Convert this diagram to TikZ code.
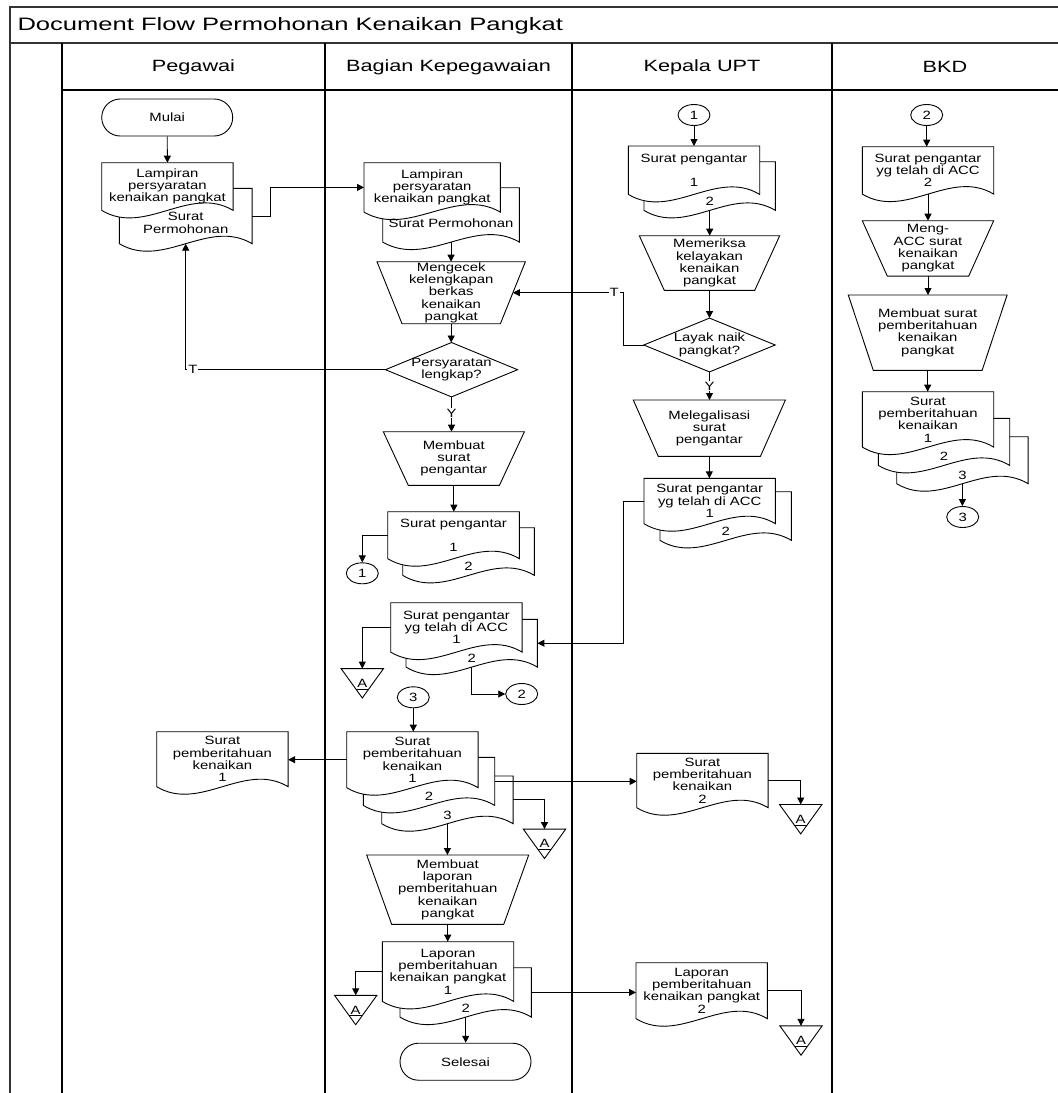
\documentclass[tikz,border=0pt]{standalone}
\usepackage{fontspec}
\setmainfont{Liberation Sans}
\newfontfamily\boxfont{Liberation Sans}[FakeStretch=1.24]
\newfontfamily\lanefont{Liberation Sans}[FakeStretch=1.33]
\newfontfamily\titlefont{Liberation Sans}[FakeStretch=1.42]
\usetikzlibrary{arrows.meta,calc,backgrounds,shapes.geometric,shapes.misc}

\tikzset{
  shapeline/.style={draw=black, line width=0.9pt},
  boxtext/.style={font=\boxfont\fontsize{12}{12.3}\selectfont, align=center, inner sep=0pt},
  docbox/.style={boxtext, minimum width=131, minimum height=#1, anchor=north west},
  manbox/.style={boxtext, anchor=north west},
  decbox/.style={boxtext},
  storebox/.style={boxtext, minimum width=42, minimum height=29},
  term/.style={boxtext, shapeline, rounded rectangle, minimum width=131, minimum height=37},
  conn/.style={boxtext, shapeline, ellipse, minimum width=32, minimum height=21},
  copylbl/.style={font=\boxfont\fontsize{12}{12.3}\selectfont, anchor=south, inner sep=0pt, yshift=4.3pt},
  lbl/.style={font=\boxfont\fontsize{12}{12.3}\selectfont, fill=white, inner sep=1pt},
  lanehead/.style={font=\lanefont\fontsize{16.3}{18}\selectfont},
  flow/.style={draw, line width=0.9pt, -{Triangle[length=7pt,width=7pt]}},
  laneline/.style={draw=black, line width=1.2pt},
  frameline/.style={draw=black!80, line width=1.5pt}
}

% document, manual operation, decision and offline storage outlines
\newcommand{\docout}[1]{%
  \path[shapeline, fill=white] (#1.south west) -- (#1.north west) -- (#1.north east) -- (#1.south east)
    .. controls ($(#1.south east)!0.33!(#1.south west)+(0,-26)$) and ($(#1.south east)!0.67!(#1.south west)+(0,26)$) .. (#1.south west) -- cycle;}
\newcommand{\manout}[1]{%
  \draw[shapeline] (#1.north west) -- (#1.north east) -- ($(#1.south east)+(-25,0)$) -- ($(#1.south west)+(25,0)$) -- cycle;}
\newcommand{\decout}[1]{%
  \draw[shapeline] (#1.north) -- (#1.east) -- (#1.south) -- (#1.west) -- cycle;}
\newcommand{\storeout}[1]{%
  \draw[shapeline] (#1.north west) -- (#1.north east) -- (#1.south) -- cycle;
  \draw[shapeline] ($(#1.south)!0.3!(#1.north west)$) -- ($(#1.south)!0.3!(#1.north east)$);}

\begin{document}
\begin{tikzpicture}[x=1pt, y=-1pt]
\useasboundingbox (0,0) rectangle (1058,1093);

% frame and swimlanes
\draw[frameline] (10,1093) -- (10,7) -- (1058,7);
\draw[frameline] (10,43) -- (1058,43);
\draw[laneline] (62,90) -- (1058,90);
\foreach \lx in {62,325,572,832}
  \draw[laneline] (\lx,43) -- (\lx,1093);

\node[anchor=west, font=\titlefont\fontsize{18}{20}\selectfont] (judul) at (14,25.5) {Document Flow Permohonan Kenaikan Pangkat};
\node[lanehead] (hpeg) at (193.5,67) {Pegawai};
\node[lanehead] (hbag) at (448.5,67) {Bagian Kepegawaian};
\node[lanehead] (hkep) at (702,67) {Kepala UPT};
\node[lanehead] (hbkd) at (945,67) {BKD};

% Pegawai
\node[term] (mulai) at (167.2,117.5) {Mulai};
\node[docbox=55, minimum width=132.4, label={[copylbl, yshift=6pt, align=center]south:Surat\\Permohonan}] (pperm) at (119.3,188.3) {};
\node[docbox=47.3] (plamp) at (101.7,162.7) {Lampiran\\persyaratan\\kenaikan pangkat};
\node[docbox=54.6] (ppem) at (156.7,731.7) {Surat\\pemberitahuan\\kenaikan\\1};

% Bagian Kepegawaian
\node[docbox=54, minimum width=136.3, label={[copylbl, yshift=10pt]south:Surat Permohonan}] (bperm) at (382.7,187.7) {};
\node[docbox=49, minimum width=136] (blamp) at (364,162.7) {Lampiran\\persyaratan\\kenaikan pangkat};
\node[manbox, minimum width=148, minimum height=61.6] (bcek) at (377,261.7) {Mengecek\\kelengkapan\\berkas\\kenaikan\\pangkat};
\node[decbox, minimum width=131.7, minimum height=54] (bsyarat) at (451.5,369.7) {Persyaratan\\lengkap?};
\node[manbox, minimum width=140.7, minimum height=53.3] (bbuat) at (383.3,431.7) {Membuat\\surat\\pengantar};
\node[docbox=47.3, minimum width=131.3, label={[copylbl]south:2}] (bsp2) at (402.7,527.7) {};
\node[docbox=46.6, minimum width=131.3] (bsp) at (387.7,511.7) {Surat pengantar\\[12.3pt]1};
\node[conn] (bc1) at (362.3,573.3) {1};
\node[docbox=47.4, label={[copylbl]south:2}] (bacc2) at (406,619.3) {};
\node[docbox=49] (bacc) at (390.7,602.7) {Surat pengantar\\yg telah di ACC\\1};
\node[storebox] (ba1) at (362.3,683.3) {A};
\node[conn] (bc2) at (521.7,694) {2};
\node[conn] (bc3) at (413.3,697.3) {3};
\node[docbox=47.3, label={[copylbl]south:3}] (bpem3) at (381.7,776) {};
\node[docbox=47.7, label={[copylbl]south:2}] (bpem2) at (363.3,757.3) {};
\node[docbox=55.6] (bpem) at (346.7,731.7) {Surat\\pemberitahuan\\kenaikan\\1};
\node[storebox] (ba2) at (544.5,843.8) {A};
\node[manbox, minimum width=161.6, minimum height=69] (bblap) at (366.7,855) {Membuat\\laporan\\pemberitahuan\\kenaikan\\pangkat};
\node[docbox=49, label={[copylbl]south:2}] (blap2) at (400,967.7) {};
\node[docbox=59.3] (blap) at (382.3,941.7) {Laporan\\pemberitahuan\\kenaikan pangkat\\1};
\node[storebox] (ba3) at (355.7,1010) {A};
\node[term] (selesai) at (465.5,1061.7) {Selesai};

% Kepala UPT
\node[conn] (kc1) at (694,115) {1};
\node[docbox=48.3, label={[copylbl]south:2}] (ksp2) at (644,161.7) {};
\node[docbox=48] (ksp) at (628.3,146) {Surat pengantar\\[12.3pt]1};
\node[manbox, minimum width=140, minimum height=54.3] (kperiksa) at (639.3,235.7) {Memeriksa\\kelayakan\\kenaikan\\pangkat};
\node[decbox, minimum width=131, minimum height=53.4] (klayak) at (709.5,345) {Layak naik\\pangkat?};
\node[manbox, minimum width=151.7, minimum height=56] (kleg) at (633.3,400) {Melegalisasi\\surat\\pengantar};
\node[docbox=48.3, label={[copylbl]south:2}] (kacc2) at (660,491.7) {};
\node[docbox=45] (kacc) at (644,478.3) {Surat pengantar\\yg telah di ACC\\1};
\node[docbox=54] (kpem) at (636.7,753.3) {Surat\\pemberitahuan\\kenaikan\\2};
\node[storebox] (ka1) at (800.7,819.2) {A};
\node[docbox=55.6] (klap) at (636,962.7) {Laporan\\pemberitahuan\\kenaikan pangkat\\2};
\node[storebox] (ka2) at (801,1040.5) {A};

% BKD
\node[conn] (dc2) at (926.7,115) {2};
\node[docbox=47] (dacc) at (862.3,146.7) {Surat pengantar\\yg telah di ACC\\2};
\node[manbox, minimum width=131, minimum height=55] (dmeng) at (862.3,220.7) {Meng-\\ACC surat\\kenaikan\\pangkat};
\node[manbox, minimum width=158.4, minimum height=75] (dbuat) at (848.3,295) {Membuat surat\\pemberitahuan\\kenaikan\\pangkat};
\node[docbox=46.6, label={[copylbl]south:3}] (dpem3) at (896.7,436.7) {};
\node[docbox=46.7, label={[copylbl]south:2}] (dpem2) at (878.3,418.3) {};
\node[docbox=55] (dpem) at (862.3,391.7) {Surat\\pemberitahuan\\kenaikan\\1};
\node[conn] (dc3) at (962.7,517) {3};

% outlines behind the texts
\begin{pgfonlayer}{background}
\foreach \d in {pperm,plamp,ppem,bperm,blamp,bsp2,bsp,bacc2,bacc,bpem3,bpem2,bpem,blap2,blap,ksp2,ksp,kacc2,kacc,kpem,klap,dacc,dpem3,dpem2,dpem}
  {\docout{\d}}
\foreach \m in {bcek,bbuat,bblap,kperiksa,kleg,dmeng,dbuat}
  {\manout{\m}}
\foreach \s in {bsyarat,klayak}
  {\decout{\s}}
\foreach \a in {ba1,ba2,ba3,ka1,ka2}
  {\storeout{\a}}
\end{pgfonlayer}

% flows
\draw[flow] (mulai.south) -- (plamp.north);
\draw[flow] (pperm.east) -- ++(18,0) |- (blamp.west);
\draw[flow] (bperm.south) -- (bperm.south |- bcek.north);
\draw[flow] (bcek.south) -- (bcek.south |- bsyarat.north);
\draw[flow] (bsyarat.west) -| node[lbl, pos=0.482] {T} (pperm.south);
\draw[flow] (bsyarat.south) -- node[lbl, pos=0.47] {Y} (bsyarat.south |- bbuat.north);
\draw[flow] (bbuat.south) -- (bbuat.south |- bsp.north);
\draw[flow] (bsp.west) -| (bc1.north);
\draw[flow] (bacc.west) -| (ba1.north);
\draw[flow] (bacc2.south) |- (bc2.west);
\draw[flow] (bc3.south) -- (bc3.south |- bpem.north);
\draw[flow] (bpem.west) -- (bpem.west -| ppem.east);
\draw[flow] (bpem2.east) -- (bpem2.east -| kpem.west);
\draw[flow] (bpem3.east) -| (ba2.north);
\draw[flow] (bpem3.south) -- (bpem3.south |- bblap.north);
\draw[flow] (bblap.south) -- (bblap.south |- blap.north);
\draw[flow] (blap.west) -| (ba3.north);
\draw[flow] (blap2.east) -- (blap2.east -| klap.west);
\draw[flow] (blap2.south) -- (blap2.south |- selesai.north);

\draw[flow] (kc1.south) -- (kc1.south |- ksp.north);
\draw[flow] (ksp2.south) -- (ksp2.south |- kperiksa.north);
\draw[flow] (kperiksa.south) -- (kperiksa.south |- klayak.north);
\draw[flow] (klayak.west) -- ++(-20.7,0) |- node[lbl, pos=0.54] {T} ($(bcek.east)+(-12.5,0)$);
\draw[flow] (klayak.south) -- node[lbl] {Y} (klayak.south |- kleg.north);
\draw[flow] (kleg.south) -- (kleg.south |- kacc.north);
\draw[flow] (kacc.west) -- ++(-20.7,0) |- (bacc2.east);
\draw[flow] (kpem.east) -| (ka1.north);
\draw[flow] (klap.east) -| (ka2.north);

\draw[flow] (dc2.south) -- (dc2.south |- dacc.north);
\draw[flow] (dacc.south) -- (dacc.south |- dmeng.north);
\draw[flow] (dmeng.south) -- (dmeng.south |- dbuat.north);
\draw[flow] (dbuat.south) -- (dbuat.south |- dpem.north);
\draw[flow] (dpem3.south) -- (dpem3.south |- dc3.north);

\end{tikzpicture}
\end{document}
